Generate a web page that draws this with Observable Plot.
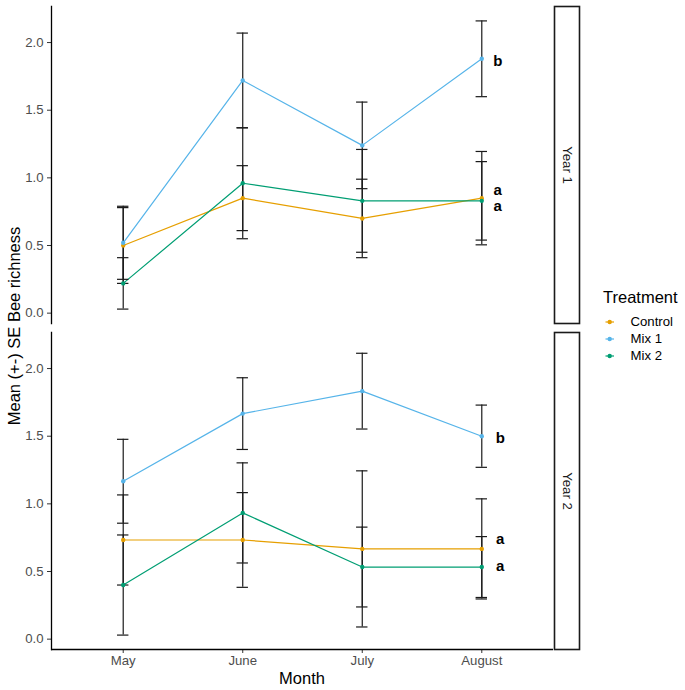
<!DOCTYPE html>
<html>
<head>
<meta charset="utf-8">
<script src="https://cdn.jsdelivr.net/npm/d3@7"></script>
<script src="https://cdn.jsdelivr.net/npm/@observablehq/plot@0.6"></script>
<style>
  body { margin: 0; background: #fff; font-family: "Liberation Sans", Arial, Helvetica, sans-serif; }
  #wrap { position: relative; width: 685px; height: 690px; background: #fff; overflow: hidden; }
  #chart { position: absolute; left: 0; top: 0; }
  .t { position: absolute; white-space: nowrap; line-height: 1; color: #000; }
  .ytitle { left: 14px; top: 326px; transform: translate(-50%, -50%) rotate(-90deg); font-size: 16.5px; }
  .xtitle { left: 302px; top: 678px; transform: translate(-50%, -50%); font-size: 16.5px; }
  .ltitle { left: 603px; top: 297px; transform: translateY(-50%); font-size: 16.5px; }
  .litem { left: 630.5px; transform: translateY(-50%); font-size: 13.2px; color: #000; }
  .lkey { position: absolute; left: 603px; width: 14px; height: 8px; transform: translateY(-50%); }
</style>
</head>
<body>
<div id="wrap">
  <div id="chart"></div>
  <div class="t ytitle">Mean (+-) SE Bee richness</div>
  <div class="t xtitle">Month</div>
  <div class="t ltitle">Treatment</div>
</div>
<script>
// ---- data ----
const months = ["May", "June", "July", "August"];
const years = ["Year 1", "Year 2"];
const treatments = ["Control", "Mix 1", "Mix 2"];
const colors = ["#E69F00", "#56B4E9", "#009E73"];

// Year 1 means and standard errors (May, June, July, August)
const year1Control = [0.50, 0.85, 0.70, 0.85];
const year1Mix1    = [0.52, 1.72, 1.24, 1.88];
const year1Mix2    = [0.22, 0.96, 0.83, 0.83];
const year1ControlSE = [0.28, 0.24, 0.29, 0.345];
const year1Mix1SE    = [0.27, 0.35, 0.32, 0.28];
const year1Mix2SE    = [0.19, 0.41, 0.38, 0.29];

// Year 2 means and standard errors
const year2Control = [0.733, 0.733, 0.667, 0.667];
const year2Mix1    = [1.167, 1.667, 1.833, 1.50];
const year2Mix2    = [0.40, 0.933, 0.533, 0.533];
const year2ControlSE = [0.333, 0.35, 0.577, 0.37];
const year2Mix1SE    = [0.31, 0.265, 0.28, 0.23];
const year2Mix2SE    = [0.37, 0.37, 0.295, 0.225];

// significance letters (at August)
const sigYear   = ["Year 1", "Year 1", "Year 1", "Year 2", "Year 2", "Year 2"];
const sigLetter = ["b", "a", "a", "b", "a", "a"];
const sigValue  = [1.865, 0.909, 0.793, 1.483, 0.742, 0.541];

const yTicks = [0, 0.5, 1.0, 1.5, 2.0];

// ---- table ----
const series = [
  ["Year 1", "Control", year1Control, year1ControlSE],
  ["Year 1", "Mix 1", year1Mix1, year1Mix1SE],
  ["Year 1", "Mix 2", year1Mix2, year1Mix2SE],
  ["Year 2", "Control", year2Control, year2ControlSE],
  ["Year 2", "Mix 1", year2Mix1, year2Mix1SE],
  ["Year 2", "Mix 2", year2Mix2, year2Mix2SE]
];
const rows = [];
for (const [year, treatment, m, se] of series) {
  months.forEach((month, i) => rows.push({year, treatment, month, mean: m[i], lo: m[i] - se[i], hi: m[i] + se[i]}));
}
const sig = sigYear.map((year, i) => ({year, month: "August", label: sigLetter[i], y: sigValue[i]}));

const ext = d3.extent(rows.flatMap(d => [d.lo, d.hi]));
const pad = (ext[1] - ext[0]) * 0.05;
const yDomain = [ext[0] - pad, ext[1] + pad];

const ink = "#1a1a1a";
const capInset = 6.25;
const chart = Plot.plot({
  width: 685,
  height: 690,
  marginLeft: 51,
  marginRight: 132,
  marginTop: 5,
  marginBottom: 41,
  style: {fontFamily: '"Liberation Sans", Arial, Helvetica, sans-serif', background: "white", overflow: "visible"},
  x: {type: "band", domain: months, paddingInner: 0.8, paddingOuter: 0.5, round: false, axis: null},
  y: {domain: yDomain, axis: null},
  fy: {domain: years, axis: null, paddingInner: 0.029, paddingOuter: 0},
  color: {domain: treatments, range: colors},
  marks: [
    // facet strips
    Plot.frame({insetLeft: 503, insetRight: -26, stroke: ink, strokeWidth: 1.6, fill: "white"}),
    Plot.text(years, {fy: d => d, text: d => d, frameAnchor: "right", textAnchor: "middle", dx: 13.5, rotate: 90, fontSize: 13.2, fill: ink}),
    // axes
    Plot.axisY({ticks: yTicks, tickFormat: d3.format(".1f"), tickSize: 4, tickPadding: 4, fontSize: 13.2, fill: "#4d4d4d", stroke: "#333", label: null}),
    Plot.axisX({tickSize: 4, tickPadding: 2.5, fontSize: 13.2, fill: "#4d4d4d", stroke: "#333", label: null}),
    Plot.frame({anchor: "left", stroke: "black", strokeWidth: 1.3}),
    Plot.ruleY([{fy: years[1], y: yDomain[0]}], {fy: "fy", y: "y", stroke: "black", strokeWidth: 1.3}),
    // lines
    Plot.line(rows, {x: "month", y: "mean", z: "treatment", stroke: "treatment", fy: "year", strokeWidth: 1.2}),
    // error bars
    Plot.ruleX(rows, {x: "month", y1: "lo", y2: "hi", fy: "year", stroke: ink, strokeWidth: 1.2}),
    Plot.tickY(rows, {x: "month", y: "lo", fy: "year", insetLeft: capInset, insetRight: capInset, stroke: ink, strokeWidth: 1.2}),
    Plot.tickY(rows, {x: "month", y: "hi", fy: "year", insetLeft: capInset, insetRight: capInset, stroke: ink, strokeWidth: 1.2}),
    // points
    Plot.dot(rows, {x: "month", y: "mean", fill: "treatment", fy: "year", r: 2.2}),
    // letters
    Plot.text(sig.filter(d => d.year === "Year 1"), {x: "month", y: "y", fy: "year", text: "label", dx: 16, fontSize: 15, fontWeight: "bold", fill: "black"}),
    Plot.text(sig.filter(d => d.year === "Year 2"), {x: "month", y: "y", fy: "year", text: "label", dx: 18.5, fontSize: 15, fontWeight: "bold", fill: "black"})
  ]
});
document.getElementById("chart").appendChild(chart);

// legend
const wrap = document.getElementById("wrap");
const legendY = [322.3, 339, 356.3];
treatments.forEach((t, i) => {
  const key = document.createElementNS("http://www.w3.org/2000/svg", "svg");
  key.setAttribute("class", "lkey");
  key.setAttribute("width", 14);
  key.setAttribute("height", 8);
  key.style.top = legendY[i] + "px";
  key.innerHTML = `<line x1="2.5" x2="11" y1="4" y2="4" stroke="${colors[i]}" stroke-width="1.2"/><circle cx="6.7" cy="4" r="2.2" fill="${colors[i]}"/>`;
  wrap.appendChild(key);
  const lab = document.createElement("div");
  lab.className = "t litem";
  lab.style.top = legendY[i] + "px";
  lab.textContent = t;
  wrap.appendChild(lab);
});
</script>
</body>
</html>
